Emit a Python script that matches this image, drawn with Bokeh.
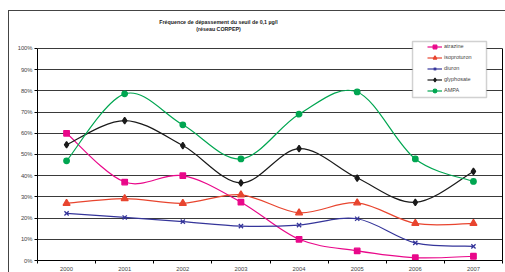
from bokeh.plotting import figure
from bokeh.models import (Range1d, FixedTicker, PrintfTickFormatter, Legend,
                          LegendItem, ColumnDataSource, Label, LinearAxis, BoxAnnotation)
from bokeh.embed import file_html
from bokeh.resources import INLINE

years = ["2000", "2001", "2002", "2003", "2004", "2005", "2006", "2007"]
atrazine = [60, 37, 40, 27.5, 10, 4.5, 1.3, 2]
isoproturon = [27, 29.2, 27, 31, 22.5, 27.2, 17.5, 17.5]
diuron = [22.2, 20.3, 18.3, 16.2, 16.7, 19.7, 8.3, 6.7]
glyphosate = [54.6, 66, 54.2, 36.6, 52.8, 38.9, 27.4, 42]
ampa = [47, 78.6, 64, 47.9, 69, 79.5, 47.9, 37.3]
y_ticks = [0, 10, 20, 30, 40, 50, 60, 70, 80, 90, 100]
title_lines = ["Fréquence de dépassement du seuil de 0,1 µg/l", "(réseau CORPEP)"]

series = [
    ("atrazine", atrazine, "#E9088A", "square", 5.5),
    ("isoproturon", isoproturon, "#E8452F", "triangle", 7),
    ("diuron", diuron, "#35359A", "x", 6),
    ("glyphosate", glyphosate, "#1A1A1A", "diamond", 6.5),
    ("AMPA", ampa, "#00A651", "circle", 5.5),
]

FONT = "Liberation Sans"

p = figure(frame_width=465, frame_height=249, x_range=Range1d(0, 8), y_range=Range1d(0, 117.45),
           output_backend="svg", toolbar_location=None,
           min_border_left=28, min_border_right=3, min_border_top=0, min_border_bottom=17)
p.margin = (10, 0, 0, 8)
p.styles = {"border-left": "1px solid #444", "border-top": "1px solid #444"}
p.background_fill_color = "white"
p.border_fill_color = "white"
p.outline_line_color = None

# axes
centers = [i + 0.5 for i in range(len(years))]
p.xaxis.ticker = FixedTicker(ticks=centers, minor_ticks=list(range(len(years) + 1)))
p.xaxis.major_label_overrides = {c: y for c, y in zip(centers, years)}
p.xaxis.major_tick_line_color = None
p.xaxis.minor_tick_in = 0
p.xaxis.minor_tick_out = 3
p.xaxis.minor_tick_line_color = "black"
p.xaxis.axis_line_color = "black"
p.xaxis.major_label_standoff = 0
p.yaxis.ticker = FixedTicker(ticks=y_ticks, minor_ticks=[])
p.yaxis.formatter = PrintfTickFormatter(format="%d%%")
p.yaxis.bounds = (0, 100)
p.yaxis.major_tick_in = 0
p.yaxis.major_tick_out = 3
p.yaxis.major_tick_line_color = "black"
p.yaxis.axis_line_color = "black"
p.yaxis.major_label_standoff = 2
for ax in (p.xaxis, p.yaxis):
    ax.major_label_text_font = FONT
    ax.major_label_text_font_size = "5.8px"
    ax.major_label_text_color = "#444444"
right_ax = LinearAxis(bounds=(0, 100), ticker=FixedTicker(ticks=[]), axis_line_color="black",
                      major_label_text_font_size="0px", major_tick_line_color=None,
                      minor_tick_line_color=None)
p.add_layout(right_ax, "right")
p.xgrid.grid_line_color = None
p.ygrid.ticker = FixedTicker(ticks=y_ticks)
p.ygrid.grid_line_color = "#3a3a3a"
p.ygrid.grid_line_width = 1

items = []
for name, vals, color, marker, size in series:
    n = len(vals)
    x0, y0, x1, y1, cx0, cy0, cx1, cy1 = [], [], [], [], [], [], [], []
    for i in range(n - 1):
        pi = max(i - 1, 0)
        ni = min(i + 2, n - 1)
        x0.append(centers[i]); y0.append(vals[i])
        x1.append(centers[i + 1]); y1.append(vals[i + 1])
        cx0.append(centers[i] + (centers[i + 1] - centers[pi]) / 6)
        cy0.append(vals[i] + (vals[i + 1] - vals[pi]) / 6)
        cx1.append(centers[i + 1] - (centers[ni] - centers[i]) / 6)
        cy1.append(vals[i + 1] - (vals[ni] - vals[i]) / 6)
    src = ColumnDataSource(dict(x0=x0, y0=y0, x1=x1, y1=y1, cx0=cx0, cy0=cy0, cx1=cx1, cy1=cy1))
    bz = p.bezier(x0="x0", y0="y0", x1="x1", y1="y1", cx0="cx0", cy0="cy0", cx1="cx1", cy1="cy1",
                  source=src, line_color=color, line_width=1.2)
    sc = p.scatter(x=centers, y=vals, marker=marker, size=size, fill_color=color,
                   line_color=color, line_width=1.3)
    items.append(LegendItem(label=name, renderers=[bz, sc]))

# legend frame
p.add_layout(BoxAnnotation(left=6.452, right=7.725, bottom=76.9, top=103.3,
                           fill_color="white", fill_alpha=1,
                           line_color="#666666", line_width=1.5))

legend = Legend(items=items, location=(390, 165.5), padding=0, margin=0, spacing=2,
                glyph_width=15, glyph_height=9, label_height=9, label_standoff=2,
                border_line_color=None, background_fill_alpha=0,
                label_text_font=FONT, label_text_font_size="5.5px",
                label_text_color="#444444")
p.add_layout(legend, "center")

# title
for txt, yy in zip(title_lines, [239, 232]):
    p.add_layout(Label(x=181, y=yy, x_units="screen", y_units="screen", text=txt,
                       text_align="center", text_baseline="middle", text_font=FONT,
                       text_font_size="5.3px", text_font_style="bold", text_color="#222222"))

open("out.html", "w").write(file_html(p, INLINE))
